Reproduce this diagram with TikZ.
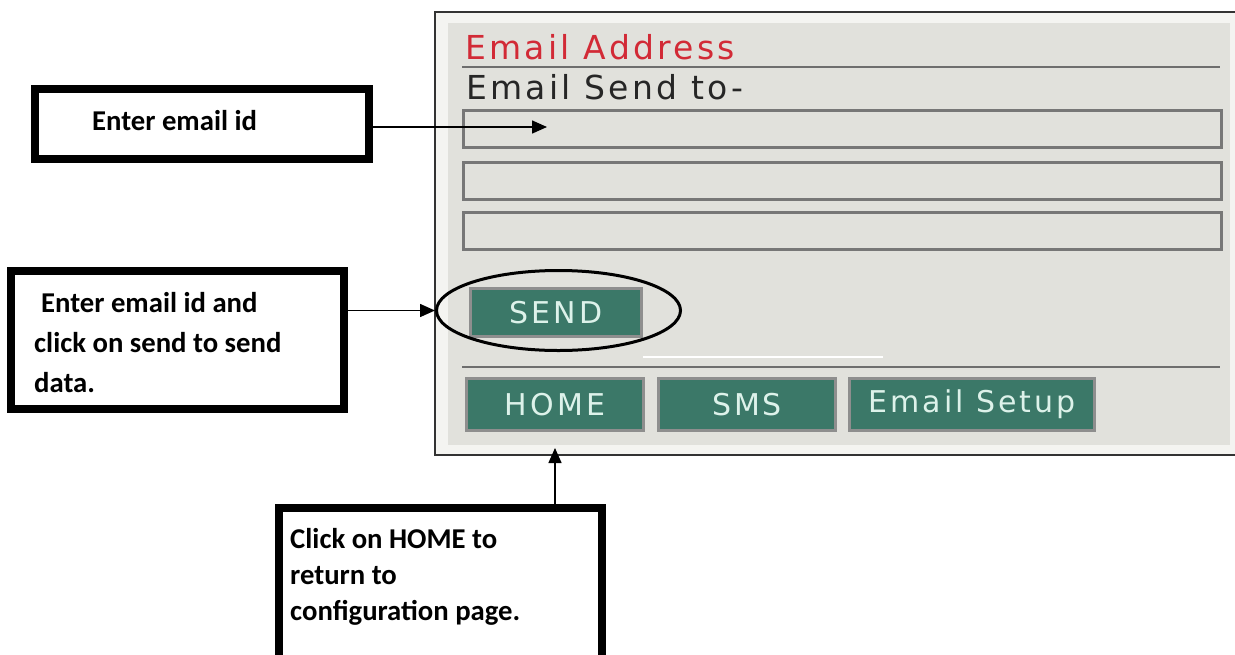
\documentclass[tikz,border=0pt]{standalone}
\usepackage{fontspec}
\setmainfont{Carlito}
\newfontfamily\uifont[LetterSpace=10]{DejaVu Sans}
\usetikzlibrary{arrows.meta,shapes.geometric}

\definecolor{panelgray}{HTML}{E1E1DC}
\definecolor{framewhite}{HTML}{F4F4F1}
\definecolor{rulegray}{HTML}{6E6E6E}
\definecolor{fieldgray}{HTML}{777777}
\definecolor{btnteal}{HTML}{3B7868}
\definecolor{btnedge}{HTML}{8E8E8E}
\definecolor{btntext}{HTML}{DDF2EA}
\definecolor{titlered}{HTML}{D22A36}
\definecolor{labelink}{HTML}{262626}

\begin{document}
\begin{tikzpicture}[
    x=1pt, y=-1pt,
    >={Triangle[length=15pt,width=13pt]},
    callout/.style={rectangle, draw=black, line width=8pt, fill=white,
        anchor=north west, inner sep=0pt, outer sep=0pt},
    calltext/.style={anchor=base west, inner sep=0pt, align=left,
        font=\bfseries\fontsize{28.7}{36}\selectfont},
    uitext/.style={anchor=base west, inner sep=0pt,
        font=\uifont\fontsize{33}{34}\selectfont},
    field/.style={rectangle, draw=fieldgray, line width=2.5pt, fill=panelgray,
        anchor=north west, minimum width=758pt, minimum height=37pt, inner sep=0pt},
    uibtn/.style={rectangle, draw=btnedge, line width=3pt, fill=btnteal,
        text=btntext, font=\uifont\fontsize{30}{30}\selectfont,
        minimum height=52pt, inner sep=0pt},
    pointer/.style={->, line width=1.5pt}
]
    \useasboundingbox (0,0) rectangle (1235,654);
    \clip (0,0) rectangle (1235,654);

    % Screen frame
    \fill[framewhite] (435,12) rectangle (1240,455);
    \draw[line width=1.5pt, black!80] (1240,12) -- (435,12) -- (435,455) -- (1240,455);
    \fill[panelgray] (448,23) rectangle (1230,445);

    % Header
    \node[uitext, text=titlered] (title) at (465,59) {Email Address};
    \draw[rulegray, line width=2pt] (462,67) -- (1220,67);
    \node[uitext, text=labelink] (sendto) at (466,99) {Email Send to-};

    % Address fields
    \node[field] (field1) at (462,109) {};
    \node[field] (field2) at (462,161) {};
    \node[field] (field3) at (462,211) {};

    % Send button
    \node[uibtn, minimum width=171pt, minimum height=48pt] (sendbtn) at (556,312.5) {SEND};
    \node[ellipse, draw=black, line width=3pt, minimum width=244pt, minimum height=80pt,
        inner sep=0pt] (sendring) at (558.5,310.5) {};

    % Bottom bar
    \draw[white, line width=1.5pt] (643,357) -- (883,357);
    \draw[rulegray, line width=2pt] (462,367) -- (1220,367);
    \node[uibtn, minimum width=177pt] (homebtn) at (555,404.5) {HOME};
    \node[uibtn, minimum width=177pt] (smsbtn) at (747,404.5) {SMS};
    \node[uibtn, minimum width=245pt] (setupbtn) at (972,404.5) {Email Setup};

    % Callouts (multi-line text is placed by its last baseline)
    \node[callout, minimum width=334pt, minimum height=70pt] (box1) at (35,89) {};
    \node[calltext] (box1text) at (92,130) {Enter email id};

    \node[callout, minimum width=333pt, minimum height=138pt] (box2) at (11,271) {};
    \node[calltext, font=\bfseries\fontsize{28.7}{40}\selectfont] (box2text) at (34,392)
        {\hspace{7pt}Enter email id and\\click on send to send\\data.};

    \node[callout, minimum width=323pt, minimum height=200pt] (box3) at (279,508) {};
    \node[calltext] (box3text) at (290,620)
        {Click on HOME to\\return to\\configuration page.};

    % Pointers
    \coordinate (fieldtip) at (547,127);
    \coordinate (hometip) at (555,448);
    \draw[pointer] (box1.east |- fieldtip) -- (fieldtip);
    \draw[pointer] (box2.east |- sendring.west) -- (sendring.west);
    \draw[pointer] (box3.north -| homebtn.south) -- (hometip);

\end{tikzpicture}
\end{document}
